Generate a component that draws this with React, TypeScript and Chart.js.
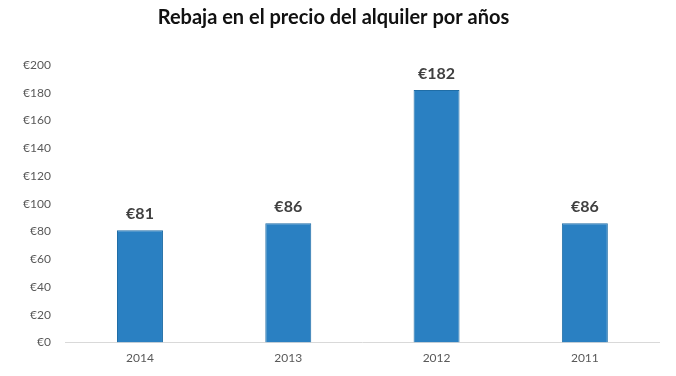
import React, { useEffect, useRef } from "react";
import { Chart, registerables } from "chart.js";

Chart.register(...registerables);

const categories = ["2014", "2013", "2012", "2011"];
const values = [81, 86, 182, 86];
const yTicks = [0, 20, 40, 60, 80, 100, 120, 140, 160, 180, 200];
const titleText = "Rebaja en el precio del alquiler por años";

const valueLabels = {
  id: "valueLabels",
  afterDatasetsDraw(chart: any) {
    const ctx = chart.ctx;
    const meta = chart.getDatasetMeta(0);
    ctx.save();
    ctx.font = "bold 16px Lato";
    ctx.fillStyle = "#404040";
    ctx.textAlign = "center";
    ctx.textBaseline = "middle";
    meta.data.forEach((bar: any, i: number) => {
      ctx.fillText("€" + values[i], bar.x, bar.y - 16);
    });
    ctx.restore();
  },
};

export default function App() {
  const ref = useRef<HTMLCanvasElement>(null);
  useEffect(() => {
    document.body.style.margin = "0";
    const chart = new Chart(ref.current!, {
      type: "bar",
      data: {
        labels: categories,
        datasets: [
          {
            data: values,
            backgroundColor: "#2a80c2",
            borderColor: "#1f6da6",
            borderWidth: 1,
            barPercentage: 0.31,
            categoryPercentage: 1,
          },
        ],
      },
      options: {
        animation: false,
        responsive: false,
        layout: { padding: { top: 6, left: 8, right: 17, bottom: 3 } },
        plugins: {
          legend: { display: false },
          tooltip: { enabled: false },
          title: {
            display: true,
            text: titleText,
            color: "#111111",
            font: { family: "Lato", size: 20, weight: "bold" },
            padding: { top: 0, bottom: 35 },
          },
        },
        scales: {
          x: {
            grid: { display: false, drawTicks: false },
            border: { display: true, color: "#d9d9d9", width: 1 },
            ticks: { color: "#595959", font: { family: "Lato", size: 12 }, padding: 8 },
          },
          y: {
            min: 0,
            max: 200,
            afterBuildTicks: (axis: any) => {
              axis.ticks = yTicks.map((v) => ({ value: v }));
            },
            grid: { display: false, drawTicks: false },
            border: { display: false },
            ticks: {
              color: "#595959",
              font: { family: "Lato", size: 12 },
              padding: 15,
              callback: (v: any) => "€" + v,
            },
          },
        },
      },
      plugins: [valueLabels],
    });
    return () => chart.destroy();
  }, []);
  return <canvas ref={ref} width={676} height={376} style={{ display: "block" }} />;
}
